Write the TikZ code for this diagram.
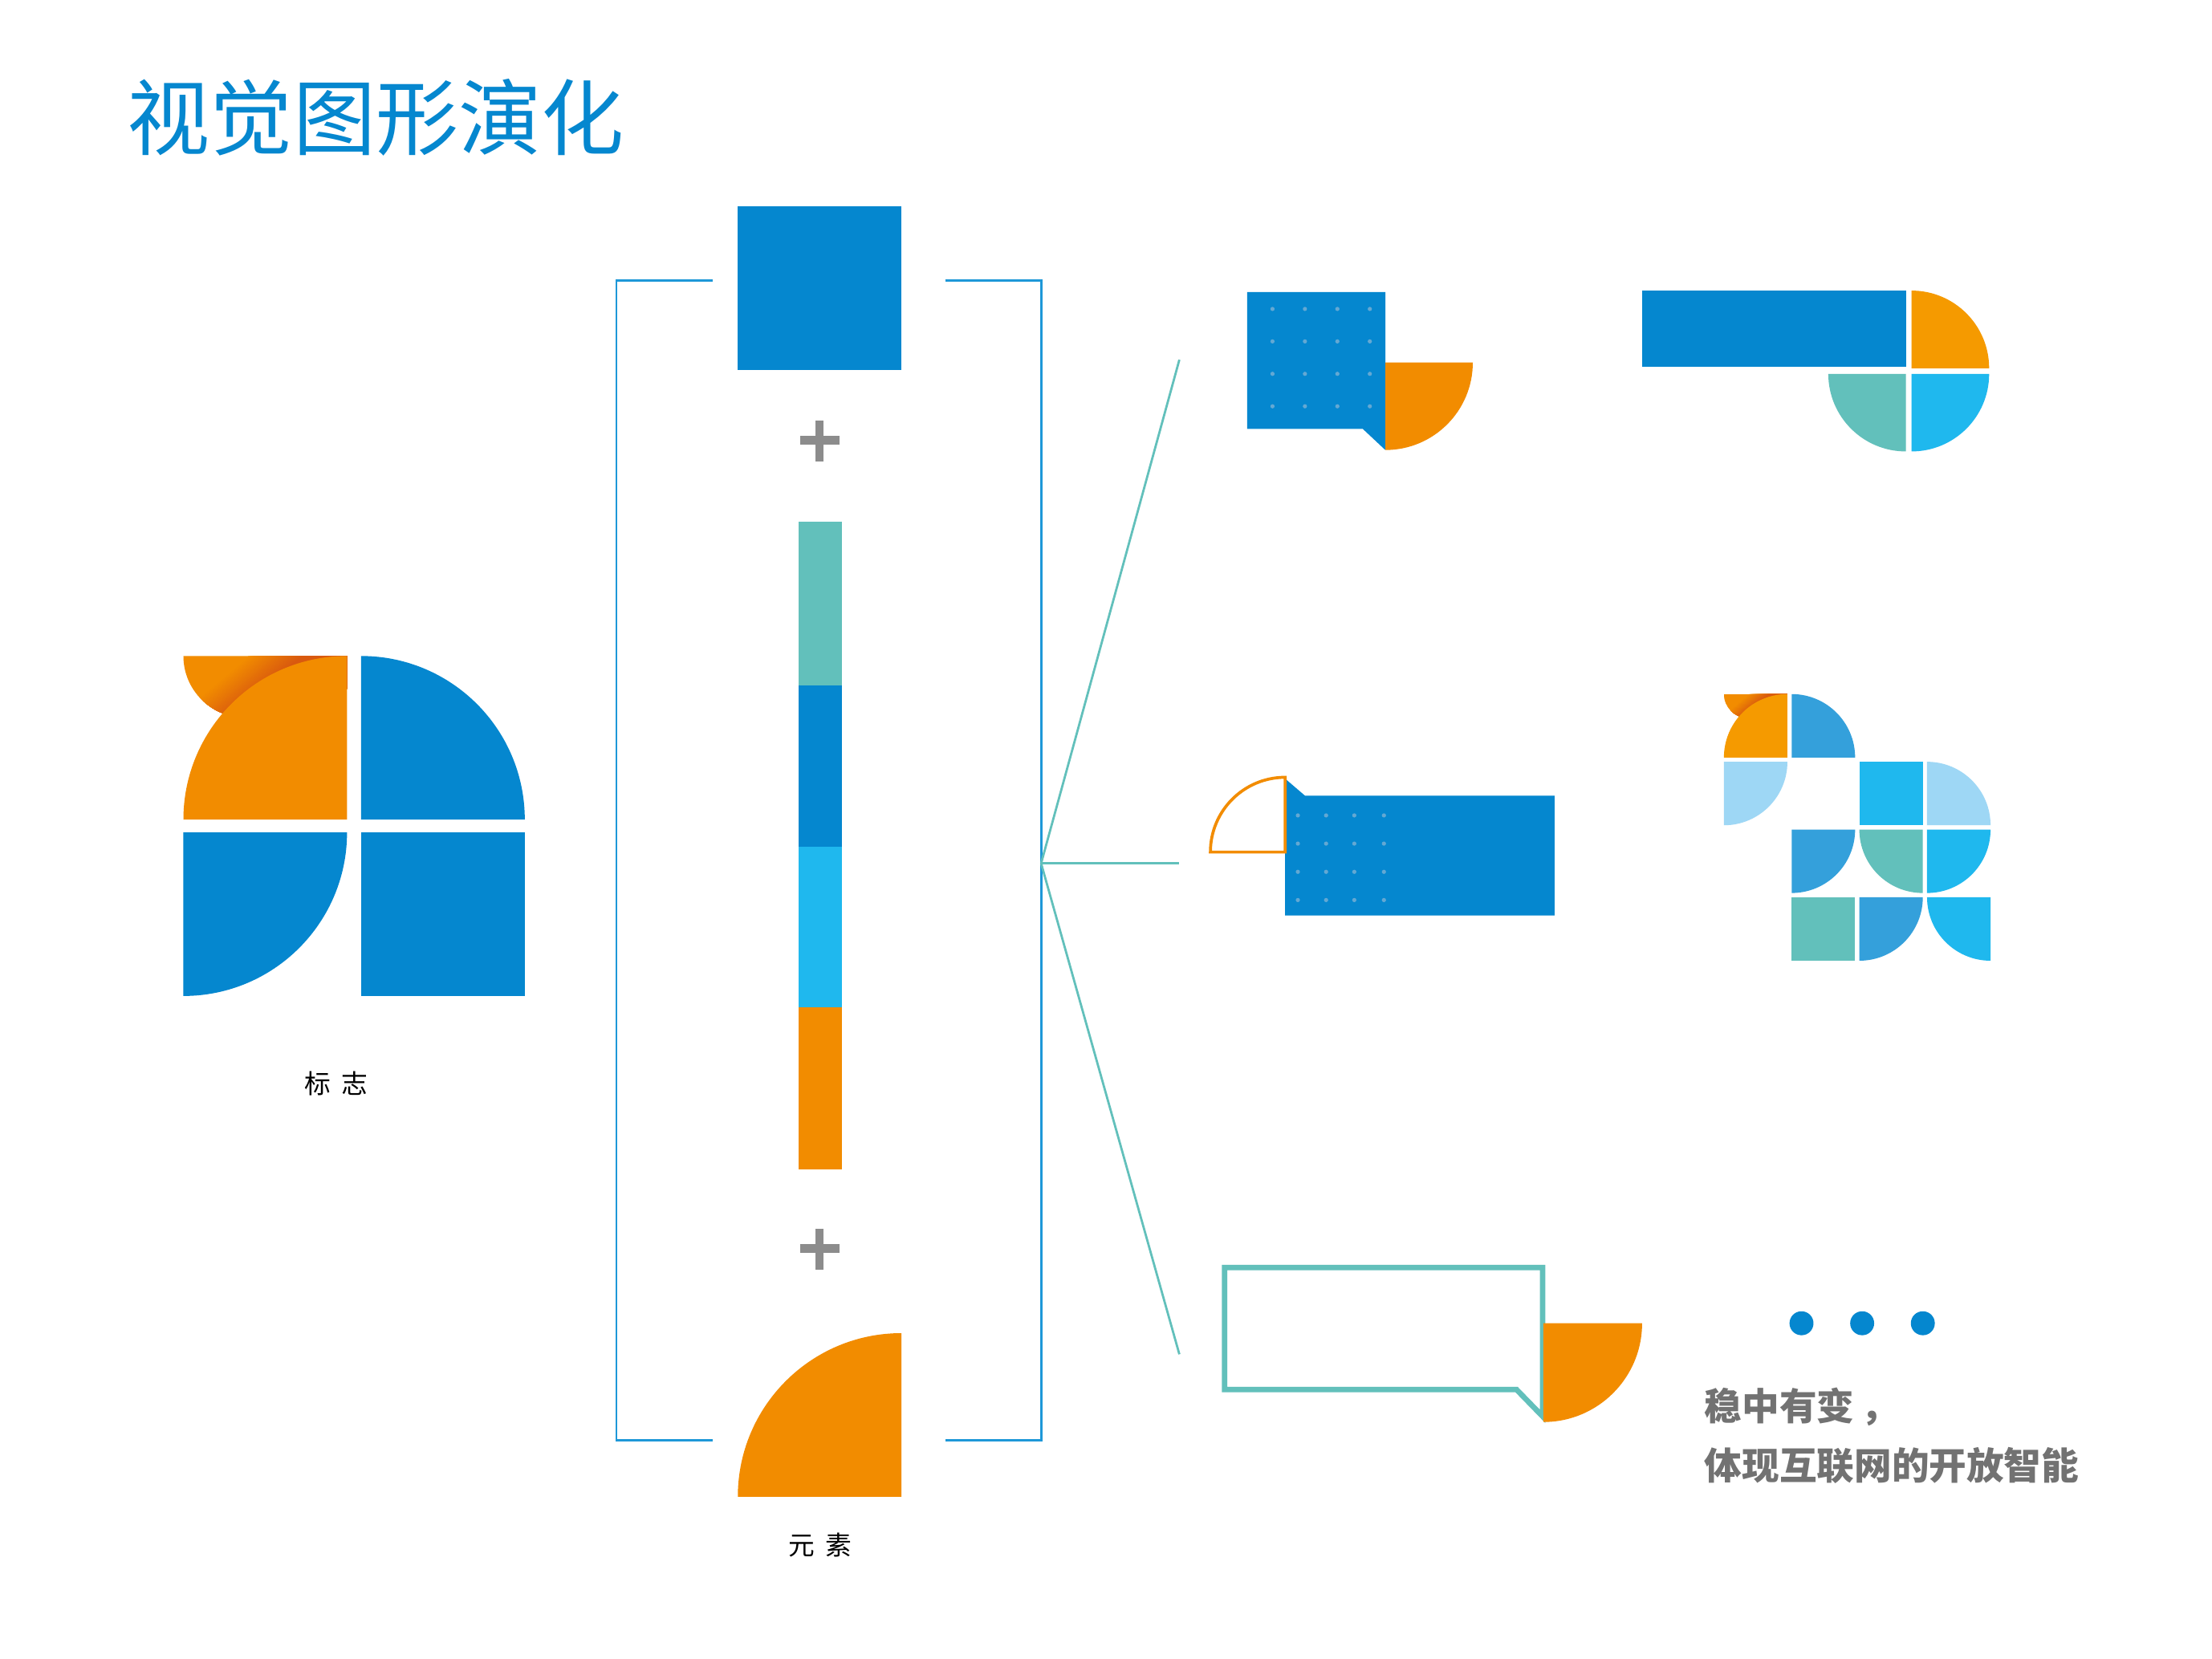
\documentclass[tikz,border=0pt]{standalone}
\usepackage{fontspec}
\newfontfamily\cjk{Noto Sans CJK SC}
\definecolor{brandblue}{HTML}{0587CF}
\definecolor{brandorange}{HTML}{F28C00}
\definecolor{gridorange}{HTML}{F59A00}
\definecolor{peeldark}{HTML}{D9590F}
\definecolor{brandteal}{HTML}{62C0BB}
\definecolor{brandcyan}{HTML}{1FB8EE}
\definecolor{midblue}{HTML}{34A0DB}
\definecolor{paleblue}{HTML}{9ED7F5}
\definecolor{dotblue}{HTML}{63A8D3}
\definecolor{bracketblue}{HTML}{1E98D8}
\definecolor{plusgray}{HTML}{8C8C8C}
\definecolor{textgray}{HTML}{727272}
% quarter disc: colour, centre x, centre y, radius, start angle (y runs downward)
\newcommand{\qrt}[5]{\fill[#1] (#2,#3) -- ++(#5:#4) arc[start angle=#5, delta angle=90, radius=#4] -- cycle;}
\newcommand{\peel}[3]{% corner x, y of the main quarter, radius
  \begin{scope}
    \clip (#1-#3,#2-#3) arc[start angle=180, delta angle=-90, radius=#3*0.375] -- (#1,#2-#3*0.8) -- (#1,#2-#3) -- cycle;
    \fill[brandorange] (#1-#3,#2-#3) rectangle (#1,#2-#3/2);
    \foreach \i in {0,...,25}{
      \pgfmathtruncatemacro{\pct}{\i*4}
      \pgfmathsetmacro{\stripx}{#1-#3*0.88+#3*0.21*\i/25}
      \fill[rotate around={-50:(#1-#3*0.88,#2-#3*0.767)}, peeldark!\pct!brandorange]
        (\stripx,#2-#3*2.5) rectangle (#1+#3*0.9,#2+#3*0.9);
    }
  \end{scope}}
\tikzset{
  bracketline/.style={draw=bracketblue, line width=0.9},
  spoke/.style={draw=brandteal, line width=0.9},
  lbl/.style={inner sep=0pt, text=black, font=\cjk\fontsize{10.6}{12}\selectfont},
  slogan/.style={inner sep=0pt, anchor=west, text=textgray, font=\cjk\bfseries\fontsize{15.1}{18}\selectfont},
  dotmark/.style={fill=dotblue, circle, inner sep=0pt, minimum size=1.7pt},
}
\begin{document}
\begin{tikzpicture}[x=0.02cm, y=-0.02cm, line join=miter]
\useasboundingbox (0,0) rectangle (1568,1176);
\fill[white] (0,0) rectangle (1568,1176);

\node[inner sep=0pt, anchor=west, text=brandblue, font=\cjk\fontsize{33.4}{36}\selectfont] (title) at (90,83) {视觉图形演化};

% logo
\peel{246}{581}{116}
\qrt{brandorange}{246}{581}{116}{180}
\qrt{brandblue}{256}{581}{116}{270}
\qrt{brandblue}{130}{590}{116}{0}
\fill[brandblue] (256,590) rectangle (372,706);
\node[lbl] (logolabel) at (238.5,768) {标\hspace{4.2pt}志};

% bracket
\draw[bracketline] (505,199) -- (437,199) -- (437,1021) -- (505,1021);
\draw[bracketline] (670,199) -- (738,199) -- (738,1021) -- (670,1021);

% elements
\fill[brandblue] (523,146) rectangle (639,262);
\fill[plusgray] (567,309) rectangle (595,315);
\fill[plusgray] (578,298) rectangle (584,327);
\fill[brandteal] (566,370) rectangle (597,486);
\fill[brandblue] (566,486) rectangle (597,600);
\fill[brandcyan] (566,600) rectangle (597,714);
\fill[brandorange] (566,714) rectangle (597,829);
\fill[plusgray] (567,882) rectangle (595,888);
\fill[plusgray] (578,871) rectangle (584,900);
\qrt{brandorange}{639}{1061}{116}{180}
\node[lbl] (elemlabel) at (581.5,1095) {元\hspace{4.2pt}素};

% spokes
\coordinate (hub) at (738,612);
\coordinate (spokeA) at (836,255);
\coordinate (spokeB) at (836,612);
\coordinate (spokeC) at (836,960);
\draw[spoke] (hub) -- (spokeA);
\draw[spoke] (hub) -- (spokeB);
\draw[spoke] (hub) -- (spokeC);

% bubble 1
\fill[brandblue] (884,207) -- (982,207) -- (982,319) -- (966,304) -- (884,304) -- cycle;
\qrt{brandorange}{982}{257}{62}{0}
\foreach \dx in {902,925,948,971}
  \foreach \dy in {219,242,265,288}
    \node[dotmark] at (\dx,\dy) {};

% bubble 2
\fill[brandblue] (911,552) -- (925,564) -- (1102,564) -- (1102,649) -- (911,649) -- cycle;
\foreach \dx in {920,940,960,981}
  \foreach \dy in {578,598,618,638}
    \node[dotmark] at (\dx,\dy) {};
\draw[brandorange, line width=1.2] (911,604) -- (858,604) arc[start angle=180, delta angle=90, radius=53] -- cycle;

% bubble 3
\draw[brandteal, line width=2.2] (868,898.5) -- (1093.5,898.5) -- (1093.5,1004) -- (1075,985) -- (868,985) -- cycle;
\qrt{brandorange}{1094}{938}{70}{0}

% top right
\fill[brandblue] (1164,206) rectangle (1351,260);
\qrt{gridorange}{1355}{261}{55}{270}
\qrt{brandteal}{1351}{265}{55}{90}
\qrt{brandcyan}{1355}{265}{55}{0}

% grid
\peel{1267}{537}{45}
\qrt{gridorange}{1267}{537}{45}{180}
\qrt{midblue}{1270}{537}{45}{270}
\qrt{paleblue}{1222}{540}{45}{0}
\fill[brandcyan] (1318,540) rectangle (1363,585);
\qrt{paleblue}{1366}{585}{45}{270}
\qrt{midblue}{1270}{588}{45}{0}
\qrt{brandteal}{1363}{588}{45}{90}
\qrt{brandcyan}{1366}{588}{45}{0}
\fill[brandteal] (1270,636) rectangle (1315,681);
\qrt{midblue}{1318}{636}{45}{0}
\qrt{brandcyan}{1411}{636}{45}{90}

% dots and slogan
\fill[brandblue] (1277,938) circle[radius=8.5];
\fill[brandblue] (1320,938) circle[radius=8.5];
\fill[brandblue] (1363,938) circle[radius=8.5];
\node[slogan] (sloganA) at (1208,997) {稳中有变\hspace{2.5pt}，};
\node[slogan] (sloganB) at (1208,1039) {体现互联网的开放智能};
\end{tikzpicture}
\end{document}
